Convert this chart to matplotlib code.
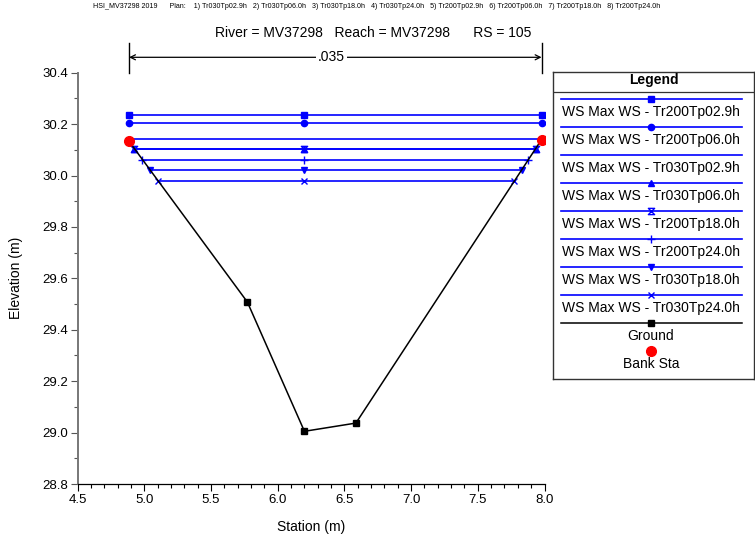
import numpy as np
import matplotlib
matplotlib.use("Agg")
import matplotlib.pyplot as plt
from matplotlib.path import Path

plt.rcParams['font.family'] = ['Liberation Sans', 'DejaVu Sans']

# ---------------- data ----------------
ground_sta = [4.885, 5.772, 6.200, 6.586, 7.978]
ground_elev = [30.133, 29.508, 29.005, 29.037, 30.140]
bank_sta = [4.885, 7.978]
bank_elev = [30.133, 30.140]

ws_names = ["Tr200Tp02.9h", "Tr200Tp06.0h", "Tr030Tp02.9h", "Tr030Tp06.0h",
            "Tr200Tp18.0h", "Tr200Tp24.0h", "Tr030Tp18.0h", "Tr030Tp24.0h"]
ws_elev = [30.236, 30.205, 30.143, 30.105, 30.105, 30.062, 30.023, 29.979]
mannings_n = ".035"

plans = ["Tr030Tp02.9h", "Tr030Tp06.0h", "Tr030Tp18.0h", "Tr030Tp24.0h",
         "Tr200Tp02.9h", "Tr200Tp06.0h", "Tr200Tp18.0h", "Tr200Tp24.0h"]
river = "MV37298"
reach = "MV37298"
rs = "105"

x_ticks = [4.5, 5.0, 5.5, 6.0, 6.5, 7.0, 7.5, 8.0]
y_ticks = [28.8, 29.0, 29.2, 29.4, 29.6, 29.8, 30.0, 30.2, 30.4]

# ---------------- styles ----------------
hourglass = Path([(-1, 1), (1, 1), (-1, -1), (1, -1), (-1, 1)],
                 [Path.MOVETO, Path.LINETO, Path.LINETO, Path.LINETO, Path.CLOSEPOLY])
ws_markers = ['s', 'o', None, '^', hourglass, '+', 'v', 'x']
ws_msize = [5, 4.5, 0, 4.5, 4.5, 6, 5, 5]
ws_fill = ['full', 'full', 'full', 'full', 'none', 'full', 'full', 'full']
BLUE = '#0000ff'

W, H = 755, 540
fig = plt.figure(figsize=(W / 100, H / 100), dpi=100)

ax_l, ax_r, ax_t, ax_b = 77.7, 544.5, 72.7, 484.0
ax = fig.add_axes([ax_l / W, 1 - ax_b / H, (ax_r - ax_l) / W, (ax_b - ax_t) / H])

gs = np.array(ground_sta)
ge = np.array(ground_elev)
imin = int(np.argmin(ge))


def ws_extent(ws):
    xl = np.interp(ws, ge[:imin + 1][::-1], gs[:imin + 1][::-1])
    xr = np.interp(ws, ge[imin:], gs[imin:])
    return xl, xr


for name, ws, mk, ms, fs in zip(ws_names, ws_elev, ws_markers, ws_msize, ws_fill):
    xl, xr = ws_extent(ws)
    xs = [xl, gs[imin], xr]
    ax.plot(xs, [ws] * 3, color=BLUE, lw=1.2, marker=mk, ms=ms, fillstyle=fs,
            markeredgewidth=1.0, zorder=3)

ax.plot(ground_sta, ground_elev, color='black', lw=1.1, marker='s', ms=4.3, zorder=4)
ax.plot(bank_sta, bank_elev, linestyle='none', marker='o', color='red', ms=7, zorder=5)

ax.set_xlim(4.5, 8.0)
ax.set_ylim(28.8, 30.4)
ax.set_xticks(x_ticks)
ax.set_xticklabels([f"{v:.1f}" for v in x_ticks])
ax.set_yticks(y_ticks)
ax.set_yticklabels([f"{v:.1f}" for v in y_ticks])
ax.set_xticks(np.arange(4.5, 8.0001, 0.1), minor=True)
ax.set_yticks(np.arange(28.8, 30.4001, 0.1), minor=True)
ax.tick_params(axis='both', which='major', labelsize=9.5, length=5, width=0.8, pad=2)
ax.tick_params(axis='both', which='minor', length=3, width=0.8)
ax.tick_params(axis='y', which='both', colors='#555555', labelcolor='black')
for s in ['top', 'right']:
    ax.spines[s].set_visible(False)
ax.spines['left'].set_color('#777777')
ax.spines['left'].set_linewidth(1.4)
ax.spines['bottom'].set_linewidth(0.9)
ax.set_xlabel("Station (m)", fontsize=10, labelpad=10)
ax.set_ylabel("Elevation (m)", fontsize=10, labelpad=14)

# Manning's n annotation above plot
tr = ax.get_xaxis_transform()
y_arrow = 1 + (ax_t - 57.3) / (ax_b - ax_t)
y_vtop = 1 + (ax_t - 42.7) / (ax_b - ax_t)
for b in bank_sta:
    ax.plot([b, b], [1.0, y_vtop], transform=tr, color='black', lw=1.0, clip_on=False)
ax.annotate('', xy=(bank_sta[0], y_arrow), xytext=(bank_sta[1], y_arrow),
            xycoords=tr, textcoords=tr,
            arrowprops=dict(arrowstyle='<->', color='black', lw=0.9,
                            shrinkA=0, shrinkB=0, mutation_scale=9))
ax.text(np.mean(bank_sta) - 0.03, y_arrow, mannings_n, transform=tr, ha='center', va='center',
        fontsize=10, bbox=dict(facecolor='white', edgecolor='none', pad=1.5), zorder=6)

# Titles
fig.text(215 / W, 1 - 33 / H,
         f"River = {river}   Reach = {reach}      RS = {rs}",
         ha='left', va='center', fontsize=10)
plan_str = "HSI_MV37298 2019      Plan:    " + "   ".join(f"{i + 1}) {p}" for i, p in enumerate(plans))
fig.text(93 / W, 1 - 6 / H, plan_str, ha='left', va='center', fontsize=5.1)

# ---------------- legend (drawn in pixel coordinates) ----------------
lx0, lx1, ly0, ly1 = 553, 754, 71.7, 379
lg = fig.add_axes([lx0 / W, 1 - ly1 / H, (lx1 - lx0) / W, (ly1 - ly0) / H])
lg.set_xlim(lx0, lx1)
lg.set_ylim(ly1, ly0)
lg.set_xticks([])
lg.set_yticks([])
for s in lg.spines.values():
    s.set_color('#333333')
    s.set_linewidth(1.0)
lg.text((lx0 + lx1) / 2, 80, "Legend", ha='center', va='center', fontsize=10, fontweight='bold')
lg.plot([lx0, lx1], [92, 92], color='#333333', lw=0.9)
mx = 651
for i, (name, mk, ms, fs) in enumerate(zip(ws_names, ws_markers, ws_msize, ws_fill)):
    yl = 99 + 28 * i
    lg.plot([561, 742], [yl, yl], color=BLUE, lw=1.2)
    if mk is not None:
        lg.plot([mx], [yl], color=BLUE, marker=mk, ms=ms, fillstyle=fs, markeredgewidth=1.0)
    lg.text(mx, yl + 13, f"WS Max WS - {name}", ha='center', va='center', fontsize=10)
yg = 99 + 28 * len(ws_names)
lg.plot([561, 742], [yg, yg], color='black', lw=1.1)
lg.plot([mx], [yg], color='black', marker='s', ms=4.3)
lg.text(mx, yg + 12.5, "Ground", ha='center', va='center', fontsize=10)
lg.plot([mx], [351], color='red', marker='o', ms=7, linestyle='none')
lg.text(mx, 363.5, "Bank Sta", ha='center', va='center', fontsize=10)

fig.savefig("out.png", dpi=100)
